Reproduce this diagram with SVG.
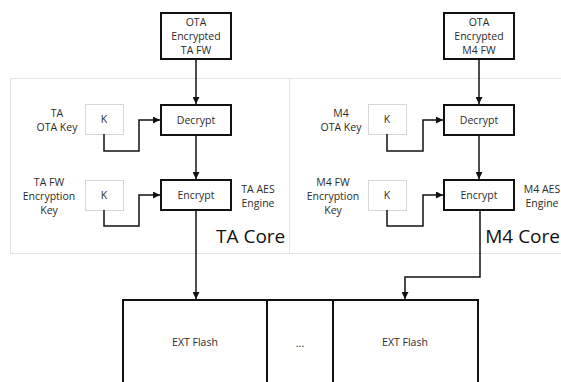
<svg xmlns="http://www.w3.org/2000/svg" width="561" height="382" viewBox="0 0 561 382">
  <defs>
    <marker id="arrow" viewBox="0 0 10 10" refX="10" refY="5" markerWidth="7" markerHeight="7" markerUnits="userSpaceOnUse" orient="auto">
      <path d="M0,0 L10,5 L0,10 z" fill="#111"/>
    </marker>
    <style>
      text { font-family: "Open Sans", "Liberation Sans", Arial, sans-serif; fill: #2b2b2b; }
      .lbl { font-size: 10.5px; text-anchor: middle; dominant-baseline: central; }
      .core { font-size: 19px; fill: #111; }
      .panel { fill: #ffffff; stroke: #e4e4e4; stroke-width: 1; }
      .box { fill: #ffffff; stroke: #111; stroke-width: 2; }
      .key { fill: #ffffff; stroke: #d6d6d6; stroke-width: 1; }
      .wire { fill: none; stroke: #111; stroke-width: 1.5; }
    </style>
  </defs>
  <rect width="561" height="382" fill="#ffffff"/>

  <!-- core panels -->
  <g id="ta-core">
    <rect class="panel" x="10.5" y="78.5" width="279" height="175"/>
    <text class="core" x="216" y="243">TA Core</text>
  </g>
  <g id="m4-core">
    <rect class="panel" x="289.5" y="78.5" width="290" height="175"/>
    <text class="core" x="560" y="243" text-anchor="end">M4 Core</text>
  </g>

  <!-- TA side -->
  <g id="ta-ota-fw">
    <rect class="box" x="161" y="13" width="70" height="46"/>
    <text class="lbl" x="196" y="22">OTA</text>
    <text class="lbl" x="196" y="36">Encrypted</text>
    <text class="lbl" x="196" y="50">TA FW</text>
  </g>
  <g id="ta-decrypt">
    <rect class="box" x="161" y="105" width="70" height="30"/>
    <text class="lbl" x="196" y="120">Decrypt</text>
  </g>
  <g id="ta-encrypt">
    <rect class="box" x="161" y="180" width="70" height="30"/>
    <text class="lbl" x="196" y="195">Encrypt</text>
  </g>
  <g id="ta-ota-key">
    <rect class="key" x="85.5" y="104.5" width="38" height="30"/>
    <text class="lbl" x="104" y="119">K</text>
    <text class="lbl" x="57" y="113">TA</text>
    <text class="lbl" x="57" y="127">OTA Key</text>
  </g>
  <g id="ta-fw-key">
    <rect class="key" x="85.5" y="180.5" width="38" height="30"/>
    <text class="lbl" x="104" y="195">K</text>
    <text class="lbl" x="49" y="182">TA FW</text>
    <text class="lbl" x="49" y="196">Encryption</text>
    <text class="lbl" x="49" y="210">Key</text>
  </g>
  <g id="ta-aes-label">
    <text class="lbl" x="258" y="189">TA AES</text>
    <text class="lbl" x="258" y="203">Engine</text>
  </g>

  <!-- M4 side -->
  <g id="m4-ota-fw">
    <rect class="box" x="444" y="13" width="70" height="46"/>
    <text class="lbl" x="479" y="22">OTA</text>
    <text class="lbl" x="479" y="36">Encrypted</text>
    <text class="lbl" x="479" y="50">M4 FW</text>
  </g>
  <g id="m4-decrypt">
    <rect class="box" x="444" y="105" width="70" height="30"/>
    <text class="lbl" x="479" y="120">Decrypt</text>
  </g>
  <g id="m4-encrypt">
    <rect class="box" x="444" y="180" width="70" height="30"/>
    <text class="lbl" x="479" y="195">Encrypt</text>
  </g>
  <g id="m4-ota-key">
    <rect class="key" x="368.5" y="104.5" width="38" height="30"/>
    <text class="lbl" x="387" y="119">K</text>
    <text class="lbl" x="341" y="113">M4</text>
    <text class="lbl" x="341" y="127">OTA Key</text>
  </g>
  <g id="m4-fw-key">
    <rect class="key" x="368.5" y="180.5" width="38" height="30"/>
    <text class="lbl" x="387" y="195">K</text>
    <text class="lbl" x="333" y="182">M4 FW</text>
    <text class="lbl" x="333" y="196">Encryption</text>
    <text class="lbl" x="333" y="210">Key</text>
  </g>
  <g id="m4-aes-label">
    <text class="lbl" x="542" y="189">M4 AES</text>
    <text class="lbl" x="542" y="203">Engine</text>
  </g>

  <!-- external flash -->
  <g id="ext-flash-ta">
    <rect class="box" x="123" y="300" width="144" height="100"/>
    <text class="lbl" x="195" y="342">EXT Flash</text>
  </g>
  <g id="ext-flash-gap">
    <rect class="box" x="267" y="300" width="66" height="100"/>
    <text class="lbl" x="300" y="343">...</text>
  </g>
  <g id="ext-flash-m4">
    <rect class="box" x="333" y="300" width="145" height="100"/>
    <text class="lbl" x="405" y="342">EXT Flash</text>
  </g>

  <!-- connectors -->
  <g id="connectors">
    <path class="wire" d="M196,59 V104" marker-end="url(#arrow)"/>
    <path class="wire" d="M104,134 V151 H139 V120 H160" marker-end="url(#arrow)"/>
    <path class="wire" d="M196,135 V179" marker-end="url(#arrow)"/>
    <path class="wire" d="M104,210 V226 H139 V195 H160" marker-end="url(#arrow)"/>
    <path class="wire" d="M196,210 V299" marker-end="url(#arrow)"/>

    <path class="wire" d="M479,59 V104" marker-end="url(#arrow)"/>
    <path class="wire" d="M387,134 V151 H423 V120 H443" marker-end="url(#arrow)"/>
    <path class="wire" d="M479,135 V179" marker-end="url(#arrow)"/>
    <path class="wire" d="M387,210 V226 H423 V195 H443" marker-end="url(#arrow)"/>
    <path class="wire" d="M480,210 V277 H405 V299" marker-end="url(#arrow)"/>
  </g>
</svg>
